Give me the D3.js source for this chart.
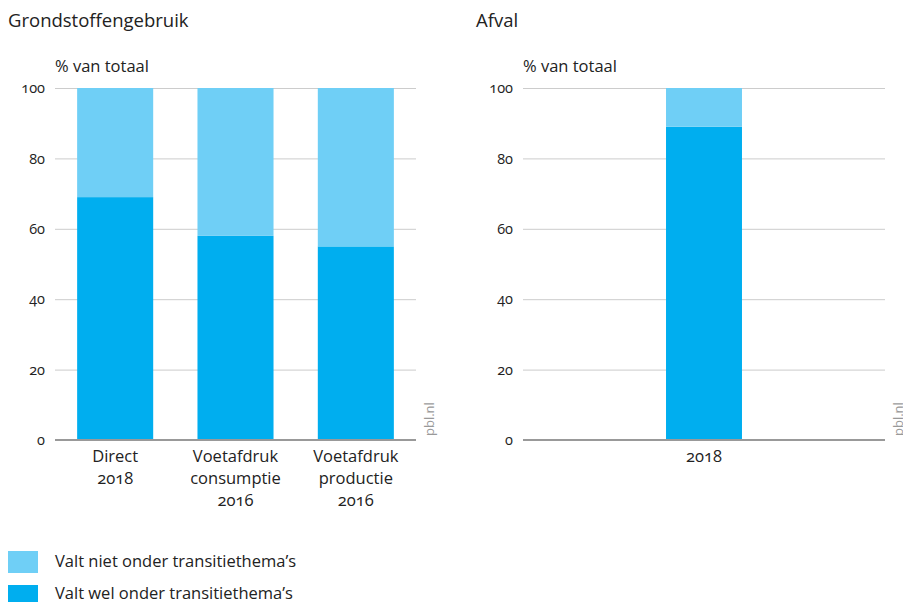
<!DOCTYPE html>
<html>
<head>
<meta charset="utf-8">
<script src="https://cdn.jsdelivr.net/npm/d3@7"></script>
<style>
  body { margin: 0; background: #fff; }
  svg { font-family: "Open Sans", "Noto Sans", sans-serif; font-variant-numeric: oldstyle-nums; }
</style>
</head>
<body>
<svg id="chart" width="903" height="602"></svg>
<script>
// Grondstoffengebruik: share (%) that falls under the transition themes
const resourceCategories = [["Direct", "2018"], ["Voetafdruk", "consumptie", "2016"], ["Voetafdruk", "productie", "2016"]];
const resourceWel = [69, 58, 55];
// Afval
const wasteCategories = [["2018"]];
const wasteWel = [89];
const yTicks = [0, 20, 40, 60, 80, 100];
const seriesNames = ["Valt niet onder transitiethema’s", "Valt wel onder transitiethema’s"];
const seriesColors = ["#6fcff6", "#00aeef"];

const svg = d3.select("#chart");

function panel(opts) {
  const { x0, x1, title, titleX, cats, wel, outer } = opts;
  const top = 88, bottom = 440;
  const y = d3.scaleLinear().domain([0, 100]).range([bottom, top]);
  const xs = d3.scaleBand().domain(cats.map((c, i) => i)).range([x0, x1])
    .paddingInner(0.368).paddingOuter(outer);
  const bw = xs.bandwidth();

  const g = svg.append("g");
  g.append("text").attr("x", titleX).attr("y", 27).attr("font-size", 18.5).attr("fill", "#222").text(title);
  g.append("text").attr("x", x0).attr("y", 72).attr("font-size", 16.5).attr("fill", "#222").text("% van totaal");

  // gridlines and tick labels
  const yAxis = d3.axisLeft(y).tickValues(yTicks).tickSize(-(x1 - x0)).tickPadding(10);
  const ax = g.append("g").attr("transform", `translate(${x0},0)`).call(yAxis);
  ax.select(".domain").remove();
  ax.selectAll(".tick line").attr("stroke", "#cccccc").attr("stroke-width", 1);
  ax.selectAll(".tick text").attr("font-size", 14.5).attr("fill", "#222").attr("font-family", "\"Open Sans\", sans-serif")
    .attr("x", -10);

  // stacked bars
  const rows = wel.map((w, i) => ({ i, wel: w, niet: 100 - w }));
  const stack = d3.stack().keys(["wel", "niet"])(rows);
  stack.forEach((layer, li) => {
    g.append("g").attr("fill", li === 0 ? seriesColors[1] : seriesColors[0])
      .selectAll("rect").data(layer).join("rect")
      .attr("x", d => xs(d.data.i))
      .attr("width", bw)
      .attr("y", d => y(d[1]))
      .attr("height", d => y(d[0]) - y(d[1]));
  });

  // baseline
  g.append("line").attr("x1", x0).attr("x2", x1).attr("y1", y(0)).attr("y2", y(0))
    .attr("stroke", "#999").attr("stroke-width", 2);

  // category labels
  cats.forEach((lines, i) => {
    const t = g.append("text").attr("text-anchor", "middle").attr("font-size", 16.5).attr("fill", "#222");
    lines.forEach((l, k) => {
      t.append("tspan").attr("x", xs(i) + bw / 2).attr("y", 462 + k * 22).text(l);
    });
  });

  // source
  g.append("text").attr("transform", `translate(${x1 + 18},${bottom - 4}) rotate(-90)`)
    .attr("font-size", 13).attr("fill", "#999").text("pbl.nl");
}

panel({ x0: 55, x1: 416, title: "Grondstoffengebruik", titleX: 8, cats: resourceCategories, wel: resourceWel, outer: 0.184 });
panel({ x0: 523, x1: 885, title: "Afval", titleX: 476, cats: wasteCategories, wel: wasteWel, outer: 1.19 });

// legend
const legend = svg.append("g");
seriesNames.forEach((name, i) => {
  legend.append("rect").attr("x", 8).attr("y", 551 + i * 34).attr("width", 30).attr("height", 22)
    .attr("fill", seriesColors[i]);
  legend.append("text").attr("x", 55).attr("y", 567 + i * 32).attr("font-size", 16.5).attr("fill", "#222").text(name);
});
</script>
</body>
</html>
